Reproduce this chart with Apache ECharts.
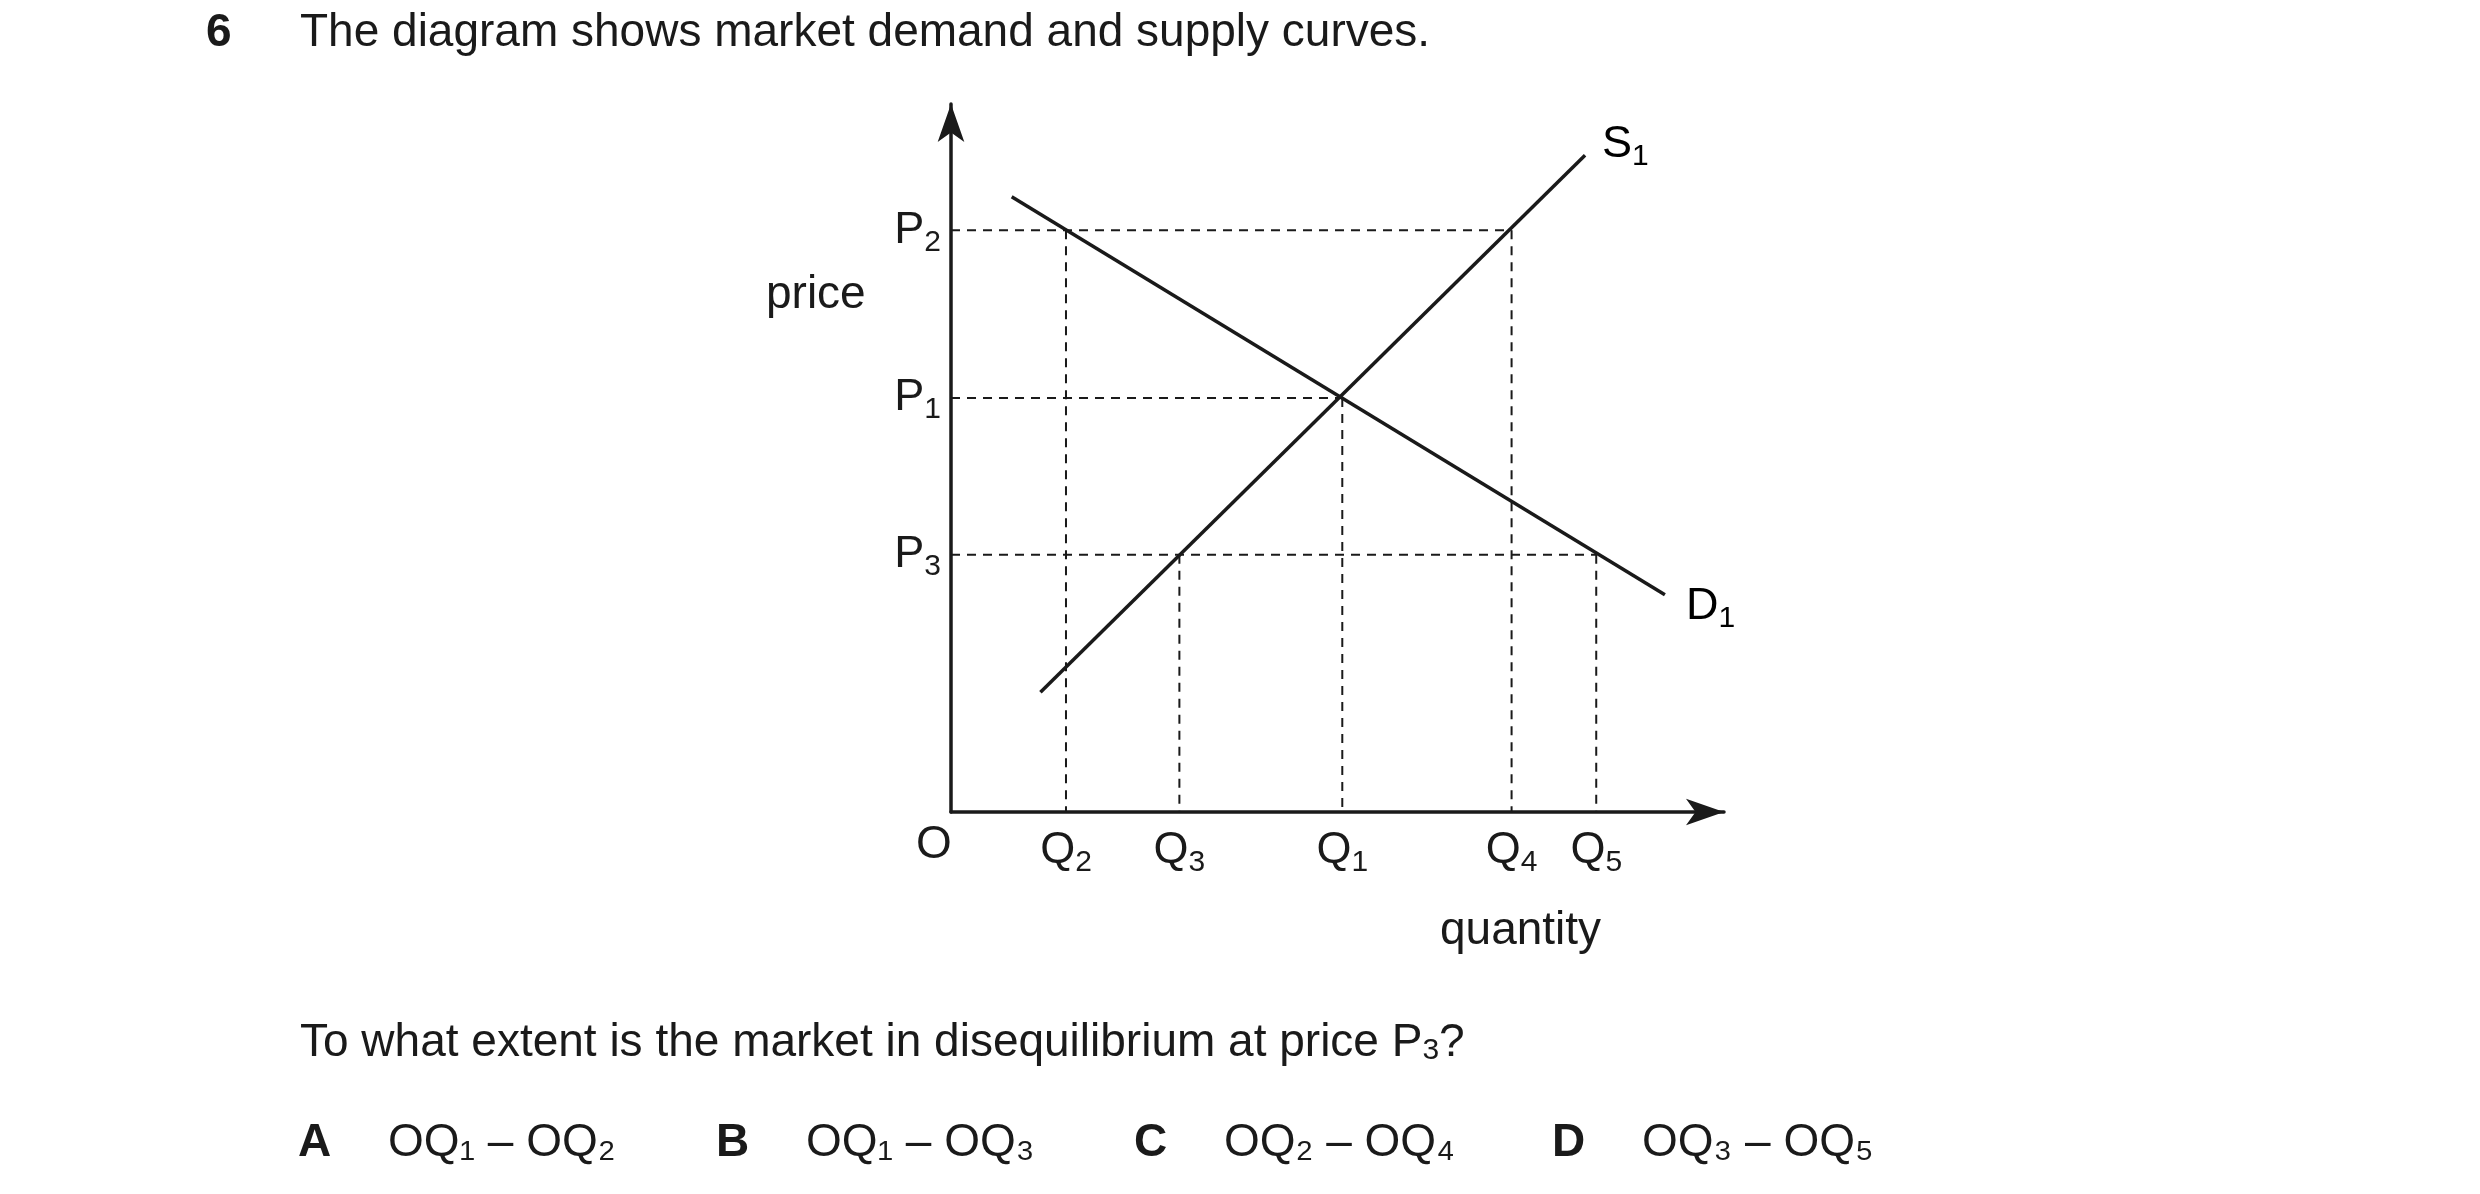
<!DOCTYPE html>
<html><head><meta charset="utf-8">
<script src="https://cdn.jsdelivr.net/npm/echarts@6/dist/echarts.min.js"></script>
<style>html,body{margin:0;background:#fff}#c{width:2480px;height:1194px}</style>
</head><body><div id="c"></div>
<script>
// quantity and price positions (arbitrary units)
const qNames = ['Q2','Q3','Q1','Q4','Q5'];
const qVals = [72,143,245,351,404];
const pNames = ['P2','P1','P3'];
const pVals = [364,259,161];
const supply = [[56,75],[397,411]];
const demand = [[38,385],[447,136]];
const F = 'Liberation Sans, Arial, sans-serif';
const black = '#1a1a1a';
const qMap = {}; qVals.forEach((v,i)=>qMap[v]=qNames[i]);
const pMap = {}; pVals.forEach((v,i)=>pMap[v]=pNames[i]);
const sub = s => '{m|'+s[0]+'}{s|'+s.slice(1)+'}';
const rich = {m:{fontSize:45,fontFamily:F,color:black},s:{fontSize:30,fontFamily:F,color:black,padding:[24,0,0,0]}};
const dash = {color:black,width:2,type:[9,7]};
const Q=n=>qVals[qNames.indexOf(n)], P=n=>pVals[pNames.indexOf(n)];
const dashed = [
 [[0,P('P2')],[Q('Q4'),P('P2')]],
 [[0,P('P1')],[Q('Q1'),P('P1')]],
 [[0,P('P3')],[Q('Q5'),P('P3')]],
 [[Q('Q2'),P('P2')],[Q('Q2'),0]],
 [[Q('Q3'),P('P3')],[Q('Q3'),0]],
 [[Q('Q1'),P('P1')],[Q('Q1'),0]],
 [[Q('Q4'),P('P2')],[Q('Q4'),0]],
 [[Q('Q5'),P('P3')],[Q('Q5'),0]]
];
const series = dashed.map(d=>({type:'line',data:d,symbol:'none',lineStyle:dash,silent:true,z:1}));
series.push({type:'line',data:supply,symbol:'none',lineStyle:{color:black,width:3.5},z:3});
series.push({type:'line',data:demand,symbol:'none',lineStyle:{color:black,width:3.5},z:3});
const chart = echarts.init(document.getElementById('c'));
const T = (l,t,s,b)=>({type:'text',left:l,top:t,style:{text:s,font:(b?'bold ':'')+'46px '+F,fill:black}});
chart.setOption({
 animation:false,
 grid:{left:951,top:104,width:773,height:708},
 xAxis:{type:'value',min:0,max:484,splitLine:{show:false},
  axisLine:{lineStyle:{color:black,width:3.5},symbol:['none','arrow'],symbolSize:[20,38]},
  axisTick:{show:false},
  axisLabel:{customValues:qVals,formatter:v=>sub(qMap[v]),rich:rich,margin:12}},
 yAxis:{type:'value',min:0,max:443,splitLine:{show:false},
  axisLine:{lineStyle:{color:black,width:3.5},symbol:['none','arrow'],symbolSize:[20,38]},
  axisTick:{show:false},
  axisLabel:{customValues:pVals,formatter:v=>sub(pMap[v]),rich:rich,margin:10}},
 graphic:[
  T(206,10,'6',true),
  T(300,10,'The diagram shows market demand and supply curves.'),
  T(766,272,'price'),
  T(916,822,'O'),
  T(1440,908,'quantity'),
  {type:'text',left:1602,top:122,style:{text:'{m|S}{s|1}',rich:rich}},
  {type:'text',left:1686,top:584,style:{text:'{m|D}{s|1}',rich:rich}},
  {type:'text',left:300,top:1020,style:{text:'To what extent is the market in disequilibrium at price {n|P}{b|3}{n|?}',font:'46px '+F,fill:black,rich:{n:{fontSize:46,fontFamily:F},b:{fontSize:30,fontFamily:F,padding:[16,0,0,0]}}}},
  T(298,1120,'A',true), T(388,1120,'OQ₁ – OQ₂'),
  T(716,1120,'B',true), T(806,1120,'OQ₁ – OQ₃'),
  T(1134,1120,'C',true), T(1224,1120,'OQ₂ – OQ₄'),
  T(1552,1120,'D',true), T(1642,1120,'OQ₃ – OQ₅')
 ],
 series:series
});
</script></body></html>
